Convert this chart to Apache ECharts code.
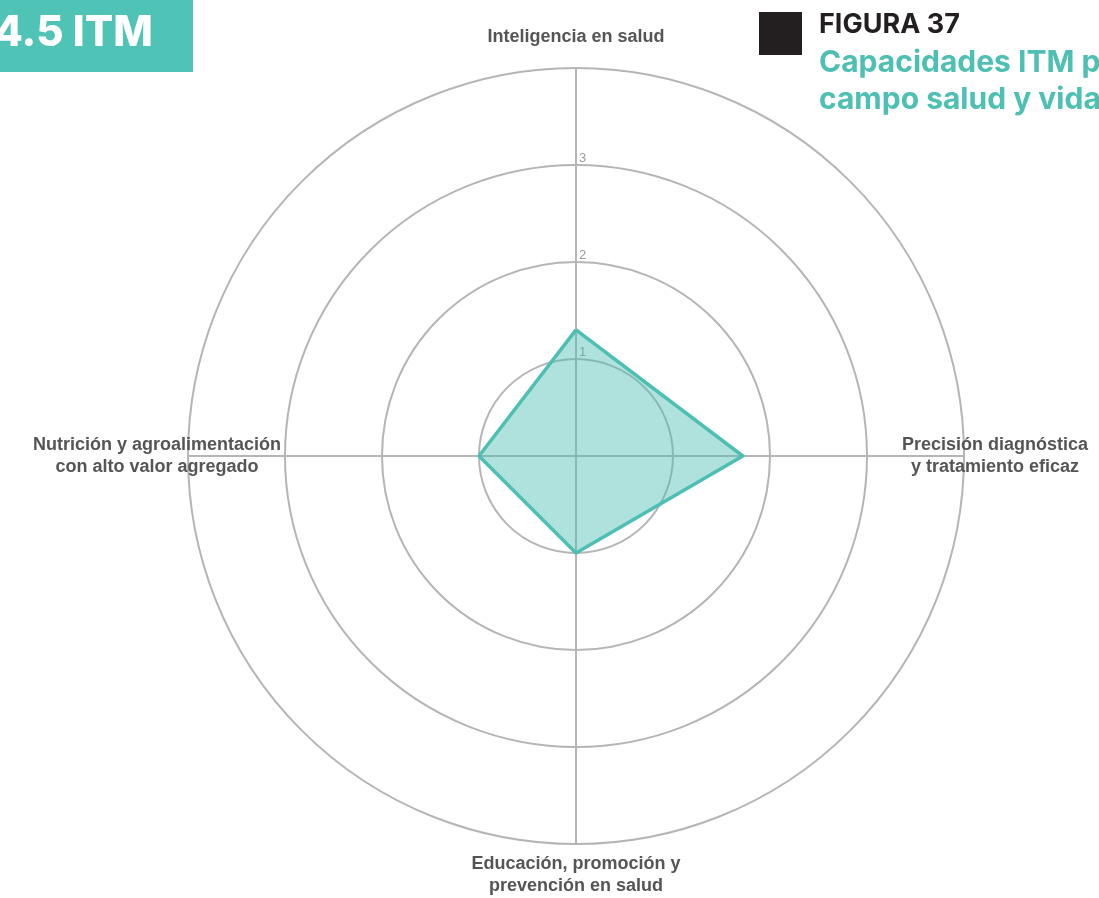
<!DOCTYPE html>
<html>
<head>
<meta charset="utf-8">
<script src="https://cdn.jsdelivr.net/npm/echarts@6/dist/echarts.min.js"></script>
<style>
  html, body { margin: 0; padding: 0; background: #fff; }
  #main { width: 1099px; height: 898px; }
</style>
</head>
<body>
<div id="main"></div>
<script>
// datos del gráfico (orden: arriba, izquierda, abajo, derecha)
var indicators = [
    'Inteligencia en salud',
    'Nutrición y agroalimentación\ncon alto valor agregado',
    'Educación, promoción y\nprevención en salud',
    'Precisión diagnóstica\ny tratamiento eficaz'
];
var capacidades = [1.3, 1.0, 1.0, 1.72];
var maxValue = 4;

var teal = '#4dbfb3';

var myChart = echarts.init(document.getElementById('main'));
myChart.setOption({
    graphic: [
        // encabezado
        { type: 'rect', shape: { x: 0, y: 0, width: 193, height: 72 }, style: { fill: '#4fc3b6' } },
        { type: 'text', style: { x: -6, y: 33, verticalAlign: 'middle', text: '4.5 ITM', fill: '#fff', font: '800 42px Inter' } },
        { type: 'rect', shape: { x: 759, y: 12, width: 43, height: 43 }, style: { fill: '#231f20' } },
        { type: 'text', style: { x: 819, y: 25, verticalAlign: 'middle', text: 'FIGURA 37', fill: '#231f20', font: '700 27px Inter' } },
        { type: 'text', style: { x: 819, y: 63, verticalAlign: 'middle', text: 'Capacidades ITM p', fill: teal, font: '700 30px Inter' } },
        { type: 'text', style: { x: 819, y: 100, verticalAlign: 'middle', text: 'campo salud y vida', fill: teal, font: '700 30px Inter' } }
    ],
    radar: {
        center: [576, 456],
        radius: 388,
        shape: 'circle',
        splitNumber: 4,
        startAngle: 90,
        indicator: indicators.map(function (name, i) {
            return {
                name: name,
                max: maxValue,
                min: 0,
                // solo el eje superior lleva etiquetas
                axisLabel: { show: i === 0 }
            };
        }),
        nameGap: 31,
        axisName: {
            color: '#555',
            fontSize: 18,
            fontWeight: 'bold',
            fontFamily: 'Liberation Sans',
            align: 'center',
            verticalAlign: 'middle',
            lineHeight: 22
        },
        axisLine: { lineStyle: { color: '#b5b5b5', width: 2 } },
        splitLine: { lineStyle: { color: '#b5b5b5', width: 2 } },
        splitArea: { show: false },
        axisTick: { show: false },
        axisLabel: {
            color: '#999',
            fontSize: 13,
            fontFamily: 'Liberation Sans',
            margin: -3,
            align: 'left',
            verticalAlign: 'bottom',
            formatter: function (v) {
                return (v > 0 && v < maxValue) ? v : '';
            }
        }
    },
    series: [{
        type: 'radar',
        symbol: 'none',
        data: [{
            value: capacidades,
            name: 'Capacidades ITM'
        }],
        lineStyle: { color: teal, width: 3.5 },
        areaStyle: { color: teal, opacity: 0.45 }
    }]
});
</script>
</body>
</html>
